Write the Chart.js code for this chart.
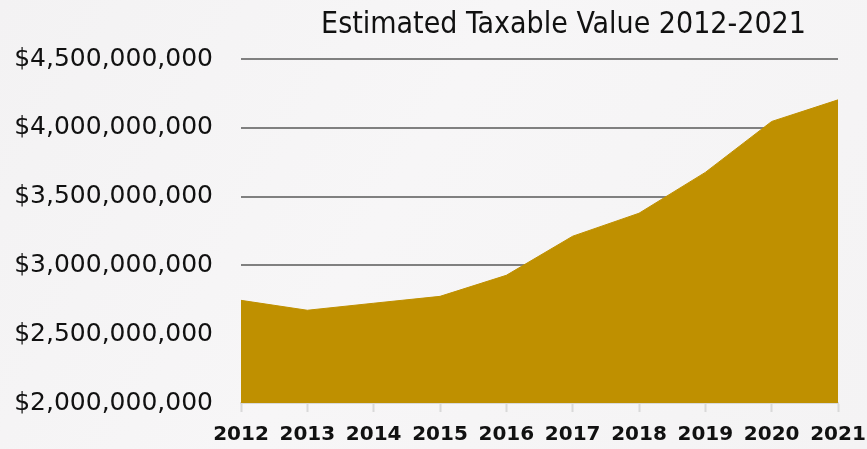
<!DOCTYPE html>
<html>
<head>
<meta charset="utf-8">
<title>Estimated Taxable Value</title>
<script src="https://cdn.jsdelivr.net/npm/chart.js@4.4.1/dist/chart.umd.min.js"></script>
<style>
    html, body {
        margin: 0;
        padding: 0;
        background: linear-gradient(120deg, #f3f2f3 0%, #f7f6f7 45%, #f4f3f4 100%);
    }
    #wrap {
        width: 867px;
        height: 449px;
        position: relative;
    }
</style>
</head>
<body>
<div id="wrap">
    <canvas id="taxChart"></canvas>
</div>
<script>
    // Estimated taxable value by year (dollars)
    const years = ['2012', '2013', '2014', '2015', '2016', '2017', '2018', '2019', '2020', '2021'];
    const taxableValues = [2746000000, 2674000000, 2725000000, 2775000000, 2928000000,
                           3212000000, 3379000000, 3676000000, 4046000000, 4203000000];
    const titleText = 'Estimated Taxable Value 2012-2021';

    const gold = '#BF9000';

    // Title sits a little right of the plot's centre, so it is drawn by hand
    const titlePlugin = {
        id: 'offsetTitle',
        afterDraw(chart) {
            const ctx = chart.ctx;
            const area = chart.chartArea;
            ctx.save();
            ctx.font = '500 30px "DejaVu Sans Condensed", "DejaVu Sans", sans-serif';
            ctx.fillStyle = '#111';
            ctx.textAlign = 'center';
            ctx.textBaseline = 'alphabetic';
            ctx.fillText(titleText, (area.left + area.right) / 2 + 24, 33);
            ctx.restore();
        }
    };

    const ctx = document.getElementById('taxChart').getContext('2d');
    const chart = new Chart(ctx, {
        type: 'line',
        data: {
            labels: years,
            datasets: [{
                label: 'Estimated Taxable Value',
                data: taxableValues,
                backgroundColor: gold,
                borderColor: gold,
                borderWidth: 1,
                pointRadius: 0,
                fill: 'start',
                tension: 0
            }]
        },
        options: {
            responsive: true,
            maintainAspectRatio: false,
            animation: false,
            layout: {
                padding: { top: 59, left: 15, right: 29, bottom: 0 }
            },
            plugins: {
                legend: { display: false },
                title: { display: false },
                tooltip: { enabled: false }
            },
            scales: {
                x: {
                    offset: false,
                    // year labels may hang past the plot edges; don't let them shrink it
                    afterFit: scale => {
                        scale.paddingLeft = 0;
                        scale.paddingRight = 0;
                        scale.height = 46;
                    },
                    grid: {
                        drawOnChartArea: false,
                        drawTicks: true,
                        tickLength: 9,
                        tickWidth: 2,
                        tickColor: '#d9d9d9'
                    },
                    border: { display: true, color: '#d9d9d9', width: 2 },
                    ticks: {
                        color: '#111',
                        padding: 13,
                        maxRotation: 0,
                        autoSkip: false,
                        font: { family: '"DejaVu Sans", sans-serif', size: 20, weight: 'bold', lineHeight: 1 }
                    }
                },
                y: {
                    min: 2000000000,
                    max: 4500000000,
                    afterFit: scale => {
                        scale.width = 226;
                    },
                    ticks: {
                        stepSize: 500000000,
                        color: '#111',
                        padding: 28,
                        font: { family: '"DejaVu Sans", sans-serif', size: 25 },
                        callback: value => '$' + value.toLocaleString('en-US')
                    },
                    grid: {
                        drawTicks: false,
                        lineWidth: 2,
                        color: c => c.tick && c.tick.value === 2000000000 ? 'rgba(0,0,0,0)' : '#808080'
                    },
                    border: { display: false }
                }
            }
        },
        plugins: [titlePlugin]
    });
</script>
</body>
</html>
